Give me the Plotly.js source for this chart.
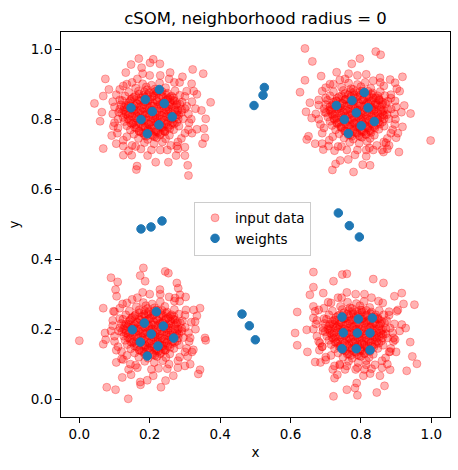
<!DOCTYPE html>
<html>
<head>
<meta charset="utf-8">
<script src="https://cdn.plot.ly/plotly-3.0.1.min.js"></script>
<style>
html,body{margin:0;padding:0;background:#fff;}
#chart{width:458px;height:470px;}
</style>
</head>
<body>
<div id="chart"></div>
<script>
// ---- data ----
const chartTitle = "cSOM, neighborhood radius = 0";
const xTickVals = [0.0, 0.2, 0.4, 0.6, 0.8, 1.0];
const yTickVals = [0.0, 0.2, 0.4, 0.6, 0.8, 1.0];
const seriesNames = ["input data", "weights"];

// input data, top-left cluster
const inputTL = [
[0.180,0.901],[0.205,0.897],[0.228,0.903],
[0.160,0.889],[0.190,0.892],[0.215,0.886],[0.245,0.890],
[0.140,0.877],[0.168,0.880],[0.198,0.875],[0.222,0.879],[0.250,0.874],[0.272,0.881],
[0.130,0.866],[0.155,0.863],[0.182,0.868],[0.207,0.864],[0.234,0.867],[0.258,0.862],[0.285,0.868],
[0.122,0.853],[0.146,0.856],[0.172,0.851],[0.196,0.854],[0.221,0.850],[0.247,0.855],[0.270,0.852],[0.292,0.849],
[0.118,0.841],[0.140,0.838],[0.165,0.843],[0.188,0.840],[0.212,0.837],[0.238,0.842],[0.262,0.839],[0.286,0.843],
[0.115,0.829],[0.137,0.832],[0.160,0.827],[0.183,0.830],[0.206,0.826],[0.230,0.831],[0.255,0.828],[0.280,0.825],[0.300,0.830],
[0.120,0.817],[0.143,0.814],[0.168,0.819],[0.192,0.816],[0.216,0.813],[0.240,0.818],[0.265,0.815],[0.290,0.819],
[0.125,0.805],[0.150,0.808],[0.175,0.803],[0.198,0.806],[0.222,0.802],[0.247,0.807],[0.272,0.804],[0.295,0.801],
[0.128,0.793],[0.153,0.790],[0.178,0.795],[0.203,0.792],[0.228,0.789],[0.252,0.794],[0.277,0.791],
[0.135,0.781],[0.160,0.784],[0.186,0.779],[0.210,0.782],[0.235,0.778],[0.260,0.783],[0.283,0.780],
[0.145,0.769],[0.170,0.766],[0.195,0.771],[0.218,0.768],[0.243,0.765],[0.268,0.770],
[0.155,0.757],[0.182,0.760],[0.206,0.755],[0.231,0.758],[0.256,0.754],
[0.168,0.745],[0.194,0.742],[0.220,0.747],[0.245,0.744],
[0.185,0.733],[0.212,0.730],[0.236,0.735],
[0.193,0.884],[0.218,0.880],
[0.170,0.872],[0.195,0.869],[0.220,0.873],[0.246,0.870],
[0.150,0.859],[0.176,0.861],[0.201,0.857],[0.226,0.860],[0.252,0.858],[0.268,0.861],
[0.140,0.847],[0.163,0.845],[0.187,0.849],[0.210,0.846],[0.235,0.844],[0.258,0.848],[0.278,0.845],
[0.128,0.835],[0.152,0.834],[0.175,0.836],[0.198,0.833],[0.222,0.836],[0.247,0.834],[0.270,0.836],
[0.131,0.822],[0.156,0.824],[0.180,0.821],[0.204,0.823],[0.228,0.820],[0.252,0.823],[0.277,0.821],
[0.138,0.811],[0.162,0.809],[0.186,0.812],[0.210,0.809],[0.234,0.811],[0.259,0.808],[0.282,0.812],
[0.142,0.798],[0.166,0.800],[0.190,0.797],[0.215,0.799],[0.240,0.797],[0.264,0.800],
[0.150,0.786],[0.174,0.787],[0.198,0.785],[0.222,0.788],[0.247,0.786],[0.270,0.787],
[0.162,0.774],[0.187,0.775],[0.211,0.773],[0.236,0.776],[0.257,0.773],
[0.176,0.762],[0.200,0.764],[0.224,0.762],[0.244,0.765],
[0.190,0.751],[0.214,0.750],
[0.185,0.878],[0.210,0.875],[0.235,0.879],
[0.160,0.866],[0.186,0.863],[0.212,0.867],[0.238,0.864],[0.262,0.866],
[0.145,0.852],[0.170,0.855],[0.194,0.851],[0.219,0.854],[0.243,0.851],[0.266,0.854],
[0.133,0.840],[0.157,0.838],[0.182,0.841],[0.206,0.838],[0.230,0.842],[0.254,0.839],[0.276,0.841],
[0.126,0.826],[0.150,0.828],[0.174,0.825],[0.198,0.827],[0.222,0.824],[0.246,0.827],[0.271,0.825],[0.291,0.827],
[0.133,0.814],[0.157,0.816],[0.181,0.813],[0.205,0.815],[0.229,0.812],[0.253,0.815],[0.277,0.813],
[0.138,0.801],[0.162,0.803],[0.186,0.800],[0.210,0.802],[0.234,0.800],[0.258,0.803],[0.281,0.800],
[0.146,0.789],[0.170,0.790],[0.194,0.788],[0.218,0.791],[0.242,0.789],[0.265,0.790],
[0.157,0.777],[0.181,0.778],[0.205,0.776],[0.229,0.779],[0.252,0.777],
[0.170,0.765],[0.194,0.766],[0.218,0.764],[0.240,0.767],
[0.185,0.754],[0.209,0.752],[0.230,0.755],
[0.105,0.870],[0.110,0.800],[0.108,0.760],[0.125,0.740],[0.150,0.725],[0.175,0.715],[0.230,0.712],[0.260,0.725],
[0.290,0.745],[0.310,0.770],[0.318,0.800],[0.320,0.850],[0.305,0.880],[0.285,0.905],[0.255,0.915],[0.150,0.905],
[0.125,0.895],[0.100,0.835],[0.095,0.815],[0.300,0.720],[0.200,0.925],[0.330,0.830],
[0.074,0.915],[0.043,0.845],[0.068,0.716],[0.125,0.697],[0.162,0.656],[0.164,0.666],[0.217,0.677],[0.253,0.677],
[0.308,0.668],[0.310,0.639],[0.322,0.942],[0.352,0.930],[0.373,0.848],[0.359,0.801],[0.354,0.773],[0.350,0.730],
[0.357,0.747],[0.334,0.871],[0.319,0.901],[0.169,0.973],[0.210,0.971],[0.229,0.958],[0.147,0.956],[0.132,0.933],
[0.084,0.885],[0.064,0.820],[0.059,0.794],[0.092,0.753],[0.293,0.921],[0.300,0.696],[0.275,0.696],[0.194,0.696],
[0.149,0.697],[0.125,0.723],[0.277,0.723],[0.334,0.771],[0.347,0.825],[0.068,0.866],[0.097,0.780],[0.201,0.961],
[0.177,0.947],[0.258,0.933],[0.305,0.837]
];
const ringTL = [
[0.095,0.850],[0.100,0.790],[0.110,0.775],[0.115,0.855],[0.115,0.885],[0.135,0.900],[0.165,0.915],[0.230,0.925],
[0.270,0.905],[0.300,0.865],[0.310,0.815],[0.312,0.790],[0.300,0.760],[0.280,0.735],[0.250,0.712],[0.205,0.712],
[0.160,0.722],[0.135,0.750],[0.112,0.820],[0.320,0.760],[0.140,0.710],[0.280,0.715],[0.105,0.730],[0.325,0.880],
[0.180,0.930]
];

// input data, top-right cluster
const inputTR = [
[0.765,0.903],[0.790,0.899],[0.812,0.905],
[0.745,0.891],[0.772,0.887],[0.800,0.893],[0.828,0.888],
[0.722,0.878],[0.750,0.882],[0.779,0.876],[0.806,0.880],[0.833,0.875],[0.855,0.879],
[0.712,0.867],[0.738,0.864],[0.764,0.869],[0.790,0.863],[0.817,0.866],[0.842,0.861],[0.868,0.867],
[0.705,0.854],[0.730,0.851],[0.755,0.856],[0.780,0.852],[0.806,0.855],[0.830,0.850],[0.853,0.854],[0.876,0.851],
[0.700,0.842],[0.724,0.839],[0.748,0.844],[0.772,0.841],[0.797,0.838],[0.821,0.843],[0.846,0.840],[0.870,0.844],
[0.695,0.830],[0.718,0.827],[0.743,0.832],[0.767,0.829],[0.791,0.826],[0.815,0.831],[0.840,0.828],[0.864,0.825],[0.886,0.829],
[0.701,0.818],[0.726,0.815],[0.751,0.820],[0.775,0.817],[0.800,0.814],[0.824,0.819],[0.849,0.816],[0.874,0.813],
[0.706,0.806],[0.731,0.803],[0.756,0.808],[0.781,0.805],[0.805,0.802],[0.830,0.807],[0.855,0.804],[0.879,0.801],
[0.712,0.794],[0.737,0.791],[0.762,0.796],[0.787,0.793],[0.812,0.790],[0.836,0.795],[0.861,0.792],
[0.718,0.782],[0.744,0.779],[0.769,0.784],[0.794,0.781],[0.819,0.778],[0.843,0.783],[0.866,0.780],
[0.728,0.770],[0.753,0.767],[0.778,0.772],[0.802,0.769],[0.827,0.766],[0.851,0.771],
[0.738,0.758],[0.764,0.755],[0.789,0.760],[0.814,0.757],[0.838,0.754],
[0.752,0.746],[0.778,0.743],[0.803,0.748],[0.826,0.745],
[0.768,0.734],[0.795,0.731],[0.818,0.736],
[0.778,0.885],[0.803,0.881],
[0.755,0.873],[0.781,0.870],[0.806,0.874],[0.830,0.871],
[0.733,0.860],[0.758,0.858],[0.784,0.861],[0.809,0.858],[0.835,0.861],[0.852,0.858],
[0.722,0.848],[0.746,0.846],[0.770,0.849],[0.794,0.846],[0.818,0.848],[0.842,0.845],[0.862,0.848],
[0.712,0.836],[0.735,0.834],[0.759,0.837],[0.783,0.834],[0.807,0.836],[0.831,0.833],[0.855,0.836],
[0.714,0.823],[0.739,0.825],[0.763,0.822],[0.788,0.824],[0.812,0.821],[0.837,0.824],[0.861,0.822],
[0.720,0.811],[0.744,0.810],[0.769,0.812],[0.793,0.809],[0.818,0.811],[0.842,0.808],[0.866,0.811],
[0.725,0.799],[0.750,0.800],[0.774,0.797],[0.799,0.799],[0.824,0.797],[0.848,0.800],
[0.733,0.787],[0.757,0.786],[0.782,0.788],[0.806,0.785],[0.831,0.787],[0.854,0.786],
[0.745,0.775],[0.770,0.773],[0.795,0.776],[0.819,0.774],[0.840,0.775],
[0.760,0.763],[0.784,0.762],[0.808,0.764],[0.829,0.762],
[0.774,0.751],[0.798,0.750],
[0.770,0.879],[0.795,0.876],[0.820,0.880],
[0.745,0.867],[0.771,0.864],[0.797,0.868],[0.823,0.865],[0.847,0.867],
[0.730,0.853],[0.755,0.856],[0.779,0.852],[0.804,0.855],[0.828,0.852],[0.851,0.855],
[0.718,0.841],[0.742,0.839],[0.767,0.842],[0.791,0.839],[0.815,0.843],[0.839,0.840],[0.861,0.842],
[0.711,0.827],[0.735,0.829],[0.759,0.826],[0.783,0.828],[0.807,0.825],[0.831,0.828],[0.856,0.826],[0.876,0.828],
[0.718,0.815],[0.742,0.817],[0.766,0.814],[0.790,0.816],[0.814,0.813],[0.838,0.816],[0.862,0.814],
[0.723,0.802],[0.747,0.804],[0.771,0.801],[0.795,0.803],[0.819,0.801],[0.843,0.804],[0.866,0.801],
[0.731,0.790],[0.755,0.791],[0.779,0.789],[0.803,0.792],[0.827,0.790],[0.850,0.791],
[0.742,0.778],[0.766,0.779],[0.790,0.777],[0.814,0.780],[0.837,0.778],
[0.755,0.766],[0.779,0.767],[0.803,0.765],[0.825,0.768],
[0.770,0.755],[0.794,0.753],[0.815,0.756],
[0.690,0.880],[0.680,0.800],[0.690,0.760],[0.710,0.740],[0.735,0.722],[0.760,0.712],[0.815,0.712],[0.845,0.725],
[0.875,0.745],[0.890,0.770],[0.898,0.800],[0.900,0.835],[0.885,0.870],[0.865,0.895],[0.835,0.910],[0.740,0.912],
[0.712,0.900],[0.680,0.840],[0.672,0.815],[0.880,0.725],[0.790,0.925],[0.915,0.820],
[0.641,1.002],[0.662,0.965],[0.842,0.993],[0.856,0.984],[0.627,0.877],[0.641,0.911],[0.998,0.739],[0.918,0.921],
[0.897,0.904],[0.902,0.887],[0.923,0.839],[0.941,0.816],[0.918,0.778],[0.908,0.706],[0.875,0.715],[0.864,0.706],
[0.826,0.668],[0.805,0.670],[0.779,0.649],[0.719,0.655],[0.728,0.672],[0.741,0.682],[0.764,0.685],[0.783,0.698],
[0.815,0.694],[0.660,0.803],[0.651,0.751],[0.646,0.742],[0.670,0.730],[0.644,0.821],[0.655,0.847],[0.687,0.923],
[0.731,0.934],[0.797,0.973],[0.774,0.958],[0.883,0.913],[0.854,0.918],[0.897,0.852],[0.900,0.747],[0.693,0.713],
[0.708,0.723],[0.824,0.718],[0.871,0.732]
];
const ringTR = [
[0.680,0.855],[0.685,0.785],[0.695,0.775],[0.700,0.860],[0.700,0.890],[0.722,0.900],[0.755,0.915],[0.815,0.928],
[0.855,0.905],[0.885,0.860],[0.895,0.815],[0.896,0.785],[0.885,0.760],[0.865,0.735],[0.835,0.712],[0.790,0.712],
[0.745,0.722],[0.720,0.750],[0.697,0.820],[0.905,0.760],[0.725,0.710],[0.860,0.712],[0.690,0.730],[0.910,0.880],
[0.765,0.930]
];

// input data, bottom-left cluster
const inputBL = [
[0.182,0.276],[0.207,0.272],[0.230,0.278],
[0.162,0.264],[0.189,0.267],[0.214,0.261],[0.243,0.265],
[0.142,0.252],[0.170,0.255],[0.197,0.250],[0.224,0.254],[0.249,0.249],[0.270,0.256],
[0.132,0.241],[0.157,0.238],[0.184,0.243],[0.209,0.239],[0.233,0.242],[0.259,0.237],[0.283,0.243],
[0.124,0.228],[0.148,0.231],[0.173,0.226],[0.198,0.229],[0.222,0.225],[0.246,0.230],[0.271,0.227],[0.293,0.224],
[0.119,0.216],[0.141,0.213],[0.166,0.218],[0.190,0.215],[0.214,0.212],[0.237,0.217],[0.261,0.214],[0.287,0.218],
[0.116,0.204],[0.138,0.207],[0.161,0.202],[0.185,0.205],[0.208,0.201],[0.231,0.206],[0.256,0.203],[0.281,0.200],[0.301,0.205],
[0.121,0.192],[0.145,0.189],[0.169,0.194],[0.193,0.191],[0.217,0.188],[0.241,0.193],[0.266,0.190],[0.291,0.194],
[0.126,0.180],[0.151,0.183],[0.176,0.178],[0.199,0.181],[0.223,0.177],[0.248,0.182],[0.273,0.179],[0.296,0.176],
[0.130,0.168],[0.154,0.165],[0.179,0.170],[0.204,0.167],[0.229,0.164],[0.253,0.169],[0.278,0.166],
[0.136,0.156],[0.161,0.159],[0.187,0.154],[0.211,0.157],[0.236,0.153],[0.261,0.158],[0.284,0.155],
[0.146,0.144],[0.171,0.141],[0.196,0.146],[0.219,0.143],[0.244,0.140],[0.269,0.145],
[0.157,0.132],[0.183,0.135],[0.207,0.130],[0.232,0.133],[0.257,0.129],
[0.169,0.120],[0.195,0.117],[0.221,0.122],[0.246,0.119],
[0.186,0.108],[0.213,0.105],[0.237,0.110],
[0.194,0.259],[0.219,0.255],
[0.171,0.247],[0.196,0.244],[0.221,0.248],[0.247,0.245],
[0.151,0.234],[0.177,0.236],[0.202,0.232],[0.227,0.235],[0.253,0.233],[0.269,0.236],
[0.141,0.222],[0.164,0.220],[0.188,0.224],[0.211,0.221],[0.236,0.219],[0.259,0.223],[0.279,0.220],
[0.129,0.210],[0.153,0.209],[0.176,0.211],[0.199,0.208],[0.223,0.211],[0.248,0.209],[0.271,0.211],
[0.132,0.197],[0.157,0.199],[0.181,0.196],[0.205,0.198],[0.229,0.195],[0.253,0.198],[0.278,0.196],
[0.139,0.186],[0.163,0.184],[0.187,0.187],[0.211,0.184],[0.235,0.186],[0.260,0.183],[0.283,0.187],
[0.143,0.173],[0.167,0.175],[0.191,0.172],[0.216,0.174],[0.241,0.172],[0.265,0.175],
[0.151,0.161],[0.175,0.162],[0.199,0.160],[0.223,0.163],[0.248,0.161],[0.271,0.162],
[0.163,0.149],[0.188,0.150],[0.212,0.148],[0.237,0.151],[0.258,0.148],
[0.177,0.137],[0.201,0.139],[0.225,0.137],[0.245,0.140],
[0.191,0.126],[0.215,0.125],
[0.185,0.253],[0.210,0.250],[0.235,0.254],
[0.160,0.241],[0.186,0.238],[0.212,0.242],[0.238,0.239],[0.262,0.241],
[0.145,0.227],[0.170,0.230],[0.194,0.226],[0.219,0.229],[0.243,0.226],[0.266,0.229],
[0.133,0.215],[0.157,0.213],[0.182,0.216],[0.206,0.213],[0.230,0.217],[0.254,0.214],[0.276,0.216],
[0.126,0.201],[0.150,0.203],[0.174,0.200],[0.198,0.202],[0.222,0.199],[0.246,0.202],[0.271,0.200],[0.291,0.202],
[0.133,0.189],[0.157,0.191],[0.181,0.188],[0.205,0.190],[0.229,0.187],[0.253,0.190],[0.277,0.188],
[0.138,0.176],[0.162,0.178],[0.186,0.175],[0.210,0.177],[0.234,0.175],[0.258,0.178],[0.281,0.175],
[0.146,0.164],[0.170,0.165],[0.194,0.163],[0.218,0.166],[0.242,0.164],[0.265,0.165],
[0.157,0.152],[0.181,0.153],[0.205,0.151],[0.229,0.154],[0.252,0.152],
[0.170,0.140],[0.194,0.141],[0.218,0.139],[0.240,0.142],
[0.185,0.129],[0.209,0.127],[0.230,0.130],
[0.100,0.250],[0.100,0.180],[0.105,0.140],[0.120,0.115],[0.145,0.100],[0.165,0.090],[0.225,0.088],[0.255,0.100],
[0.285,0.120],[0.305,0.145],[0.315,0.175],[0.318,0.220],[0.303,0.255],[0.285,0.280],[0.255,0.292],[0.150,0.285],
[0.123,0.272],[0.095,0.210],[0.090,0.195],[0.300,0.095],[0.200,0.300],[0.330,0.200],
[0.000,0.167],[0.090,0.347],[0.109,0.335],[0.103,0.313],[0.182,0.375],[0.173,0.353],[0.187,0.337],[0.244,0.365],
[0.253,0.360],[0.277,0.332],[0.281,0.317],[0.302,0.292],[0.272,0.289],[0.343,0.260],[0.329,0.222],[0.334,0.238],
[0.357,0.175],[0.359,0.168],[0.324,0.141],[0.308,0.122],[0.315,0.100],[0.343,0.084],[0.338,0.072],[0.267,0.067],
[0.245,0.053],[0.232,0.034],[0.210,0.067],[0.193,0.054],[0.174,0.041],[0.173,0.049],[0.147,0.070],[0.122,0.062],
[0.139,0.001],[0.103,0.027],[0.078,0.034],[0.068,0.157],[0.073,0.189],[0.075,0.170],[0.068,0.260],[0.097,0.251],
[0.106,0.294],[0.125,0.113],[0.120,0.136],[0.229,0.313],[0.286,0.298]
];
const ringBL = [
[0.095,0.225],[0.100,0.165],[0.110,0.150],[0.115,0.230],[0.115,0.260],[0.135,0.275],[0.165,0.290],[0.230,0.300],
[0.270,0.280],[0.300,0.240],[0.310,0.190],[0.312,0.165],[0.300,0.135],[0.280,0.110],[0.250,0.087],[0.205,0.085],
[0.160,0.097],[0.135,0.125],[0.112,0.195],[0.320,0.135],[0.140,0.085],[0.280,0.090],[0.105,0.105],[0.325,0.255],
[0.180,0.305]
];

// input data, bottom-right cluster
const inputBR = [
[0.762,0.277],[0.787,0.273],[0.809,0.279],
[0.742,0.265],[0.769,0.261],[0.797,0.267],[0.825,0.262],
[0.719,0.252],[0.747,0.256],[0.776,0.250],[0.803,0.254],[0.830,0.249],[0.852,0.253],
[0.709,0.241],[0.735,0.238],[0.761,0.243],[0.787,0.237],[0.814,0.240],[0.839,0.235],[0.865,0.241],
[0.702,0.228],[0.727,0.225],[0.752,0.230],[0.777,0.226],[0.803,0.229],[0.827,0.224],[0.850,0.228],[0.873,0.225],
[0.697,0.216],[0.721,0.213],[0.745,0.218],[0.769,0.215],[0.794,0.212],[0.818,0.217],[0.843,0.214],[0.867,0.218],
[0.692,0.204],[0.715,0.201],[0.740,0.206],[0.764,0.203],[0.788,0.200],[0.812,0.205],[0.837,0.202],[0.861,0.199],[0.883,0.203],
[0.698,0.192],[0.723,0.189],[0.748,0.194],[0.772,0.191],[0.797,0.188],[0.821,0.193],[0.846,0.190],[0.871,0.187],
[0.703,0.180],[0.728,0.177],[0.753,0.182],[0.778,0.179],[0.802,0.176],[0.827,0.181],[0.852,0.178],[0.876,0.175],
[0.709,0.168],[0.734,0.165],[0.759,0.170],[0.784,0.167],[0.809,0.164],[0.833,0.169],[0.858,0.166],
[0.715,0.156],[0.741,0.153],[0.766,0.158],[0.791,0.155],[0.816,0.152],[0.840,0.157],[0.863,0.154],
[0.725,0.144],[0.750,0.141],[0.775,0.146],[0.799,0.143],[0.824,0.140],[0.848,0.145],
[0.735,0.132],[0.761,0.129],[0.786,0.134],[0.811,0.131],[0.835,0.128],
[0.749,0.120],[0.775,0.117],[0.800,0.122],[0.823,0.119],
[0.765,0.108],[0.792,0.105],[0.815,0.110],
[0.760,0.095],[0.790,0.090],[0.815,0.098],[0.740,0.100],[0.700,0.120],[0.690,0.150],
[0.775,0.259],[0.800,0.255],
[0.752,0.247],[0.778,0.244],[0.803,0.248],[0.827,0.245],
[0.730,0.234],[0.755,0.232],[0.781,0.235],[0.806,0.232],[0.832,0.235],[0.849,0.232],
[0.719,0.222],[0.743,0.220],[0.767,0.223],[0.791,0.220],[0.815,0.222],[0.839,0.219],[0.859,0.222],
[0.709,0.210],[0.732,0.208],[0.756,0.211],[0.780,0.208],[0.804,0.210],[0.828,0.207],[0.852,0.210],
[0.711,0.197],[0.736,0.199],[0.760,0.196],[0.785,0.198],[0.809,0.195],[0.834,0.198],[0.858,0.196],
[0.717,0.185],[0.741,0.184],[0.766,0.186],[0.790,0.183],[0.815,0.185],[0.839,0.182],[0.863,0.185],
[0.722,0.173],[0.747,0.174],[0.771,0.171],[0.796,0.173],[0.821,0.171],[0.845,0.174],
[0.730,0.161],[0.754,0.160],[0.779,0.162],[0.803,0.159],[0.828,0.161],[0.851,0.160],
[0.742,0.149],[0.767,0.147],[0.792,0.150],[0.816,0.148],[0.837,0.149],
[0.757,0.137],[0.781,0.136],[0.805,0.138],[0.826,0.136],
[0.771,0.125],[0.795,0.124],
[0.765,0.253],[0.790,0.250],[0.815,0.254],
[0.740,0.241],[0.766,0.238],[0.792,0.242],[0.818,0.239],[0.842,0.241],
[0.725,0.227],[0.750,0.230],[0.774,0.226],[0.799,0.229],[0.823,0.226],[0.846,0.229],
[0.713,0.215],[0.737,0.213],[0.762,0.216],[0.786,0.213],[0.810,0.217],[0.834,0.214],[0.856,0.216],
[0.706,0.201],[0.730,0.203],[0.754,0.200],[0.778,0.202],[0.802,0.199],[0.826,0.202],[0.851,0.200],[0.871,0.202],
[0.713,0.189],[0.737,0.191],[0.761,0.188],[0.785,0.190],[0.809,0.187],[0.833,0.190],[0.857,0.188],
[0.718,0.176],[0.742,0.178],[0.766,0.175],[0.790,0.177],[0.814,0.175],[0.838,0.178],[0.861,0.175],
[0.726,0.164],[0.750,0.165],[0.774,0.163],[0.798,0.166],[0.822,0.164],[0.845,0.165],
[0.737,0.152],[0.761,0.153],[0.785,0.151],[0.809,0.154],[0.832,0.152],
[0.750,0.140],[0.774,0.141],[0.798,0.139],[0.820,0.142],
[0.765,0.129],[0.789,0.127],[0.810,0.130],
[0.680,0.255],[0.675,0.180],[0.682,0.140],[0.700,0.112],[0.725,0.095],[0.755,0.085],[0.810,0.085],[0.840,0.098],
[0.870,0.118],[0.885,0.145],[0.893,0.175],[0.895,0.215],[0.880,0.250],[0.862,0.275],[0.830,0.290],[0.735,0.290],
[0.707,0.277],[0.672,0.215],[0.665,0.200],[0.875,0.100],[0.785,0.300],[0.910,0.195],
[0.665,0.363],[0.747,0.356],[0.760,0.358],[0.722,0.337],[0.665,0.320],[0.655,0.298],[0.619,0.249],[0.613,0.189],
[0.619,0.154],[0.646,0.198],[0.648,0.135],[0.670,0.106],[0.665,0.265],[0.665,0.232],[0.670,0.251],[0.835,0.343],
[0.864,0.332],[0.916,0.303],[0.895,0.294],[0.921,0.272],[0.952,0.270],[0.902,0.251],[0.916,0.213],[0.927,0.203],
[0.940,0.163],[0.946,0.122],[0.959,0.101],[0.930,0.081],[0.883,0.084],[0.854,0.067],[0.867,0.038],[0.845,0.019],
[0.788,0.046],[0.790,0.011],[0.783,0.032],[0.760,0.027],[0.722,0.008],[0.725,0.060],[0.733,0.070],[0.807,0.067],
[0.826,0.073],[0.897,0.170],[0.883,0.136],[0.693,0.303],[0.684,0.160]
];
const ringBR = [
[0.675,0.225],[0.680,0.165],[0.690,0.150],[0.695,0.230],[0.695,0.260],[0.715,0.275],[0.745,0.290],[0.810,0.300],
[0.850,0.280],[0.880,0.240],[0.890,0.190],[0.892,0.165],[0.880,0.135],[0.860,0.110],[0.830,0.087],[0.785,0.085],
[0.740,0.097],[0.715,0.125],[0.692,0.195],[0.900,0.135],[0.720,0.085],[0.860,0.090],[0.685,0.105],[0.905,0.255],
[0.760,0.305]
];

// stray input point (behind legend)
const inputStray = [[0.484,0.521]];

// SOM weights
const weightX = [
0.2273,0.1875,0.2415,0.1469,0.2074,0.1753,0.2642,0.2264,0.1932,
0.8097,0.7747,0.7301,0.8202,0.7869,0.7528,0.8381,0.8011,0.7642,
0.2188,0.1847,0.2386,0.1506,0.2045,0.1733,0.2682,0.2236,0.1932,
0.7463,0.7926,0.8324,0.7500,0.7898,0.8259,0.7463,0.7869,0.8259,
0.5256,0.5219,0.4963,
0.1753,0.2037,0.2349,
0.7358,0.7670,0.7955,
0.4622,0.4830,0.5000
];
const weightY = [
0.8847,0.8561,0.8447,0.8324,0.8218,0.7989,0.8066,0.7838,0.7580,
0.8762,0.8533,0.8390,0.8324,0.8181,0.7989,0.7932,0.7809,0.7589,
0.2497,0.2174,0.2088,0.1982,0.1859,0.1630,0.1745,0.1516,0.1230,
0.2346,0.2288,0.2317,0.1896,0.1888,0.1888,0.1439,0.1439,0.1402,
0.8905,0.8684,0.8390,
0.4863,0.4920,0.5092,
0.5320,0.4957,0.4634,
0.2431,0.2097,0.1696
];

// ---- build traces ----
const allInput = inputTL.concat(ringTL, inputTR, ringTR, inputBL, ringBL, inputBR, ringBR, inputStray);
const inputX = allInput.map(p => p[0]);
const inputY = allInput.map(p => p[1]);

const font = 'DejaVu Sans, Liberation Sans, sans-serif';

const traces = [
  {
    type: 'scatter', mode: 'markers', name: seriesNames[0],
    x: inputX, y: inputY,
    marker: {color: 'rgba(255,0,0,0.3)', size: 8, line: {width: 1, color: 'rgba(255,0,0,0.3)'}},
    hoverinfo: 'skip'
  },
  {
    type: 'scatter', mode: 'markers', name: seriesNames[1],
    x: weightX, y: weightY,
    marker: {color: '#1f77b4', size: 8.5, line: {width: 1, color: '#1f77b4'}},
    hoverinfo: 'skip'
  }
];

const axisCommon = {
  showgrid: false, zeroline: false,
  showline: true, linecolor: '#000', linewidth: 1, mirror: true,
  ticks: 'outside', ticklen: 5, tickwidth: 1, tickcolor: '#000',
  tickfont: {family: font, size: 13.5, color: '#000'},
  tickformat: '.1f'
};

const layout = {
  width: 458, height: 470,
  margin: {l: 61, r: 8, t: 32, b: 53, pad: 0},
  paper_bgcolor: '#fff', plot_bgcolor: '#fff',
  showlegend: true,
  title: {
    text: chartTitle,
    font: {family: font, size: 16.5, color: '#000'},
    x: 0.5, xref: 'paper', xanchor: 'center',
    y: 0.962, yref: 'container', yanchor: 'middle'
  },
  xaxis: Object.assign({}, axisCommon, {
    range: [-0.052, 1.053], tickvals: xTickVals,
    title: {text: 'x', font: {family: font, size: 13.5, color: '#000'}, standoff: 6}
  }),
  yaxis: Object.assign({}, axisCommon, {
    range: [-0.051, 1.049], tickvals: yTickVals,
    title: {text: 'y', font: {family: font, size: 13.5, color: '#000'}, standoff: 8}
  }),
  legend: {
    x: 0.342, y: 0.5597, xanchor: 'left', yanchor: 'top',
    bgcolor: 'rgba(255,255,255,0.8)', bordercolor: '#cccccc', borderwidth: 1,
    font: {family: font, size: 13.5, color: '#000'},
    traceorder: 'normal'
  }
};

Plotly.newPlot('chart', traces, layout, {displayModeBar: false, staticPlot: true});
</script>
</body>
</html>
